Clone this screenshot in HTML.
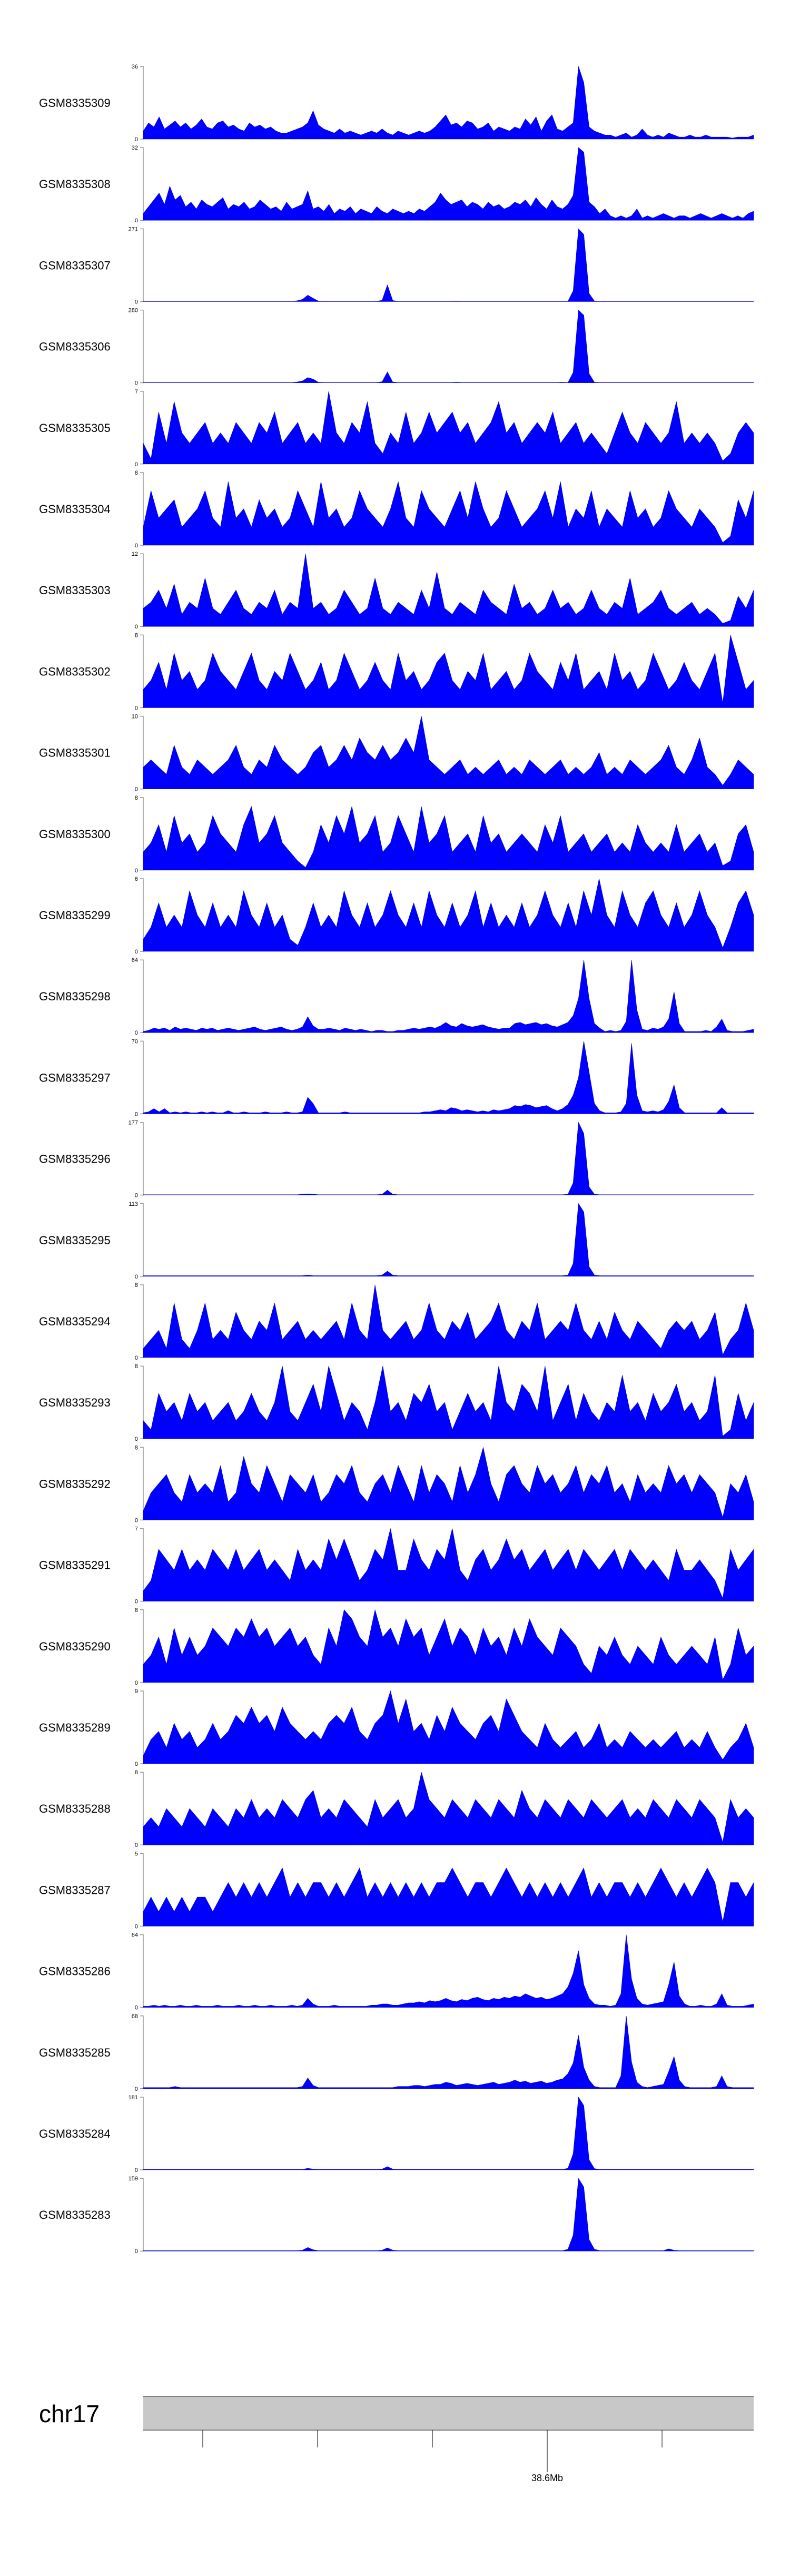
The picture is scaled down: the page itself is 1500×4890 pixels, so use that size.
<!DOCTYPE html>
<html><head><meta charset="utf-8">
<style>
html,body{margin:0;padding:0;background:#fff;}
svg{display:block;}
text{font-family:"Liberation Sans",sans-serif;}
</style></head>
<body>
<svg id="chart" xmlns="http://www.w3.org/2000/svg" width="1500" height="4890" viewBox="0 0 1500 4890">
<rect x="0" y="0" width="1500" height="4890" fill="#fff"/>
<g id="tracks"></g>
<g id="ideogram">
  <text x="74" y="4598" font-size="46" fill="#000">chr17</text>
  <rect x="272" y="4549" width="1159" height="64" fill="#c8c8c8"/>
  <line x1="272" y1="4549" x2="1431" y2="4549" stroke="#808080" stroke-width="2"/>
  <line x1="272" y1="4613" x2="1431" y2="4613" stroke="#808080" stroke-width="2"/>
</g>
<g id="ticks"></g>
</svg>
<script>
const sampleNames = ["GSM8335309","GSM8335308","GSM8335307","GSM8335306","GSM8335305","GSM8335304","GSM8335303","GSM8335302","GSM8335301","GSM8335300","GSM8335299","GSM8335298","GSM8335297","GSM8335296","GSM8335295","GSM8335294","GSM8335293","GSM8335292","GSM8335291","GSM8335290","GSM8335289","GSM8335288","GSM8335287","GSM8335286","GSM8335285","GSM8335284","GSM8335283"];
const yMaxLabels = [36,32,271,280,7,8,12,8,10,8,6,64,70,177,113,8,8,8,7,8,9,8,5,64,68,181,159];

const s5309 = [4,8,6,11,5,7,9,6,8,5,7,10,6,5,8,9,6,7,5,4,8,6,7,5,6,4,3,3,4,5,6,8,14,7,5,4,3,5,3,4,3,2,3,4,3,5,3,2,4,3,2,3,4,3,4,6,9,12,7,8,6,9,8,5,6,8,4,6,5,4,6,5,10,7,11,4,9,12,5,4,6,8,36,28,6,4,3,2,2,1,2,3,1,2,5,2,1,2,1,3,2,1,1,2,1,1,2,1,1,1,1,0.5,1,1,1,2];
const s5308 = [3,6,9,12,7,15,9,11,6,8,5,9,7,6,8,10,5,7,6,8,5,6,9,7,5,6,4,8,5,6,7,13,5,6,4,7,3,5,4,6,3,5,4,3,6,4,3,5,4,3,4,3,5,4,6,8,12,9,7,8,9,6,8,7,5,8,6,7,5,6,8,7,9,6,10,7,5,9,6,5,7,11,32,30,8,6,3,5,2,1,2,1,2,5,1,2,1,2,3,2,1,2,2,1,2,3,2,1,2,3,2,1,2,1,3,4];
const s5307 = [1,1,1,1,1,1,1,1,1,1,1,1,1,1,1,1,1,1,1,1,1,1,1,1,1,1,1,1,1,3,8,24,12,2,1,1,1,1,1,1,1,1,1,1,1,5,62,4,1,1,1,1,1,1,1,1,1,1,1,2,1,1,1,1,1,1,1,1,1,1,1,1,1,1,1,1,1,1,1,1,1,40,271,250,30,2,1,1,1,1,1,1,1,1,1,1,1,1,1,1,1,1,1,1,1,1,1,1,1,1,1,1,1,1,1,1];
const s5306 = [1,1,1,1,1,1,1,1,1,1,1,1,1,1,1,1,1,1,1,1,1,1,1,1,1,1,1,1,1,3,7,20,14,2,1,1,1,1,1,1,1,1,1,1,1,4,42,3,1,1,1,1,1,1,1,1,1,1,1,2,1,1,1,1,1,1,1,1,1,1,1,1,1,1,1,1,1,1,1,2,1,40,280,260,35,2,1,1,1,1,1,1,1,1,1,1,1,1,1,1,1,1,1,1,1,1,1,1,1,1,1,1,1,1,1,1];
const s5305 = [2,0.5,5,2,6,3,2,3,4,2,3,2,4,3,2,4,3,5,2,3,4,2,3,2,7,3,2,4,3,6,2,1,3,2,5,2,3,5,3,4,5,3,4,2,3,4,6,3,4,2,3,4,3,5,2,3,4,2,3,2,1,3,5,3,2,4,3,2,3,6,2,3,2,3,2,0.3,1,3,4,3];
const s5304 = [2,6,3,4,5,2,3,4,6,3,2,7,3,4,2,5,3,4,2,3,6,4,2,7,3,4,2,3,6,4,3,2,4,7,3,2,6,4,3,2,4,6,3,7,4,2,3,6,4,2,3,4,6,3,7,2,4,3,6,2,4,3,2,6,3,4,2,3,6,4,3,2,4,3,2,0.3,1,5,3,6];
const s5303 = [3,4,6,3,7,2,4,3,8,3,2,4,6,3,2,4,3,6,2,4,3,12,3,4,2,3,6,4,2,3,8,3,2,4,3,2,6,3,9,3,2,4,3,2,6,4,3,2,7,3,4,2,3,6,3,4,2,3,6,3,2,4,3,8,2,3,4,6,3,2,3,4,2,3,2,0.5,1,5,3,6];
const s5302 = [2,3,5,2,6,3,4,2,3,6,4,3,2,4,6,3,2,4,3,6,4,2,3,5,2,3,6,4,2,3,5,3,2,6,3,4,2,3,5,6,3,2,4,3,6,2,3,4,2,3,6,4,3,2,5,3,6,2,3,4,2,6,3,4,2,3,6,4,2,3,5,3,2,4,6,0.5,8,5,2,3];
const s5301 = [3,4,3,2,6,3,2,4,3,2,3,4,6,3,2,4,3,6,4,3,2,3,5,6,3,4,6,4,7,5,4,6,4,5,7,5,10,4,3,2,3,4,2,3,2,3,4,2,3,2,4,3,2,3,4,2,3,2,3,5,2,3,2,4,3,2,3,4,6,3,2,4,7,3,2,0.5,2,4,3,2];
const s5300 = [2,3,5,2,6,3,4,2,3,6,4,3,2,5,7,3,4,6,3,2,1,0.3,2,5,3,6,4,7,3,4,6,2,3,6,4,2,7,3,4,6,2,3,4,2,6,3,4,2,3,4,3,2,5,3,6,2,3,4,2,3,4,2,3,2,5,3,2,3,2,5,2,3,4,2,3,0.5,1,4,5,2];
const s5299 = [1,2,4,2,3,2,5,3,2,4,2,3,2,5,3,2,4,2,3,1,0.5,2,4,2,3,2,5,3,2,4,2,3,5,3,2,4,2,5,3,2,4,2,3,5,2,4,2,3,2,4,2,3,5,3,2,4,2,5,3,6,3,2,5,3,2,4,5,3,2,4,2,3,5,3,2,0.3,2,4,5,3];
const s5298 = [1,2,4,3,4,2,5,3,4,3,2,4,3,4,2,3,4,3,2,3,4,5,3,2,3,4,5,3,2,3,5,14,6,3,3,4,3,2,4,3,2,3,2,1,2,2,1,1,2,2,3,4,3,4,5,4,6,9,6,5,8,6,5,6,7,5,4,3,4,4,8,9,7,8,9,7,8,6,5,7,9,15,30,64,30,8,4,1,2,1,2,10,64,20,3,2,4,3,5,12,36,8,1,1,1,1,2,1,5,12,2,1,1,1,2,3];
const s5297 = [1,2,5,2,5,1,2,1,2,1,1,2,1,2,1,1,3,1,1,2,1,1,1,2,1,1,1,2,1,1,2,16,10,1,1,1,1,1,2,1,1,1,1,1,1,1,1,1,1,1,1,1,1,2,2,3,4,3,6,5,3,4,3,2,3,2,4,3,4,5,8,7,9,8,6,7,8,5,3,5,9,18,35,70,40,10,3,1,1,1,2,10,68,18,3,2,3,2,4,12,28,6,1,1,1,1,1,1,1,6,1,1,1,1,1,1];
const s5296 = [1,1,1,1,1,1,1,1,1,1,1,1,1,1,1,1,1,1,1,1,1,1,1,1,1,1,1,1,1,1,2,3,2,1,1,1,1,1,1,1,1,1,1,1,1,2,12,2,1,1,1,1,1,1,1,1,1,1,1,1,1,1,1,1,1,1,1,1,1,1,1,1,1,1,1,1,1,1,1,1,2,30,177,150,20,2,1,1,1,1,1,1,1,1,1,1,1,1,1,1,1,1,1,1,1,1,1,1,1,1,1,1,1,1,1,1];
const s5295 = [1,1,1,1,1,1,1,1,1,1,1,1,1,1,1,1,1,1,1,1,1,1,1,1,1,1,1,1,1,1,1,2,1,1,1,1,1,1,1,1,1,1,1,1,1,2,8,2,1,1,1,1,1,1,1,1,1,1,1,1,1,1,1,1,1,1,1,1,1,1,1,1,1,1,1,1,1,1,1,1,2,20,113,100,15,2,1,1,1,1,1,1,1,1,1,1,1,1,1,1,1,1,1,1,1,1,1,1,1,1,1,1,1,1,1,1];
const s5294 = [1,2,3,1,6,2,1,3,6,2,3,2,5,3,2,4,3,6,2,3,4,2,3,2,3,4,2,6,3,2,8,3,2,3,4,2,3,6,3,2,4,3,5,2,3,4,6,3,2,4,3,6,2,3,4,3,6,3,2,4,2,5,3,2,4,3,2,1,3,4,3,4,2,3,5,0.3,2,3,6,3];
const s5293 = [2,1,5,3,4,2,5,3,4,2,3,4,2,3,5,3,2,4,8,3,2,4,6,3,8,5,2,4,3,1,4,8,3,4,2,5,4,6,3,4,1,3,5,3,4,2,8,4,3,6,5,3,8,2,4,6,2,5,3,2,4,3,7,3,4,2,5,3,4,6,3,4,2,3,7,0.3,1,5,2,4];
const s5292 = [1,3,4,5,3,2,5,3,4,3,6,2,3,7,4,3,6,4,2,5,4,3,5,2,3,5,4,6,3,2,4,5,3,6,4,2,6,3,5,4,2,6,3,5,8,4,2,5,6,4,3,6,4,5,3,4,6,3,5,4,6,3,4,2,5,3,4,3,6,4,5,3,5,4,3,0.3,4,3,5,2];
const s5291 = [1,2,5,4,3,5,3,4,3,5,4,3,5,3,4,5,3,4,3,2,5,3,4,3,6,4,6,4,2,3,5,4,7,3,3,6,4,3,5,4,7,3,2,4,5,3,4,6,4,5,3,4,5,3,4,5,3,5,4,3,4,5,3,5,4,3,4,3,2,5,3,3,4,3,2,0.3,5,3,4,5];
const s5290 = [2,3,5,2,6,3,5,3,4,6,5,4,6,5,7,5,6,4,5,6,4,5,3,2,6,4,8,7,5,4,8,5,6,4,7,5,6,3,5,7,4,6,5,3,6,4,5,3,6,4,7,5,4,3,6,5,4,2,1,4,3,5,3,2,4,3,2,5,3,2,3,4,3,2,5,0.3,2,6,3,4];
const s5289 = [1,3,4,2,5,3,4,2,3,5,3,4,6,5,7,5,6,4,7,5,4,3,4,3,5,6,5,7,4,3,5,6,9,5,8,4,5,3,6,4,7,5,4,3,5,6,4,8,6,4,3,2,5,3,2,3,4,2,3,5,2,3,2,4,3,2,3,2,3,4,2,3,2,4,2,0.5,2,3,5,2];
const s5288 = [2,3,2,4,3,2,4,3,2,4,3,2,4,3,5,3,4,3,5,4,3,5,6,3,4,3,5,4,3,2,5,3,4,5,3,4,8,5,4,3,5,4,3,5,4,3,5,4,3,6,4,3,5,4,3,5,4,3,5,4,3,4,5,3,4,3,5,4,3,5,4,3,5,4,3,0.3,5,3,4,3];
const s5287 = [1,2,1,2,1,2,1,2,2,1,2,3,2,3,2,3,2,3,4,2,3,2,3,3,2,3,2,3,4,2,3,2,3,2,3,2,3,2,3,3,4,3,2,3,3,2,3,4,3,2,3,2,3,2,3,2,3,4,2,3,2,3,3,2,3,2,3,4,3,2,3,2,3,4,3,0.3,3,3,2,3];
const s5286 = [1,1,2,1,2,1,1,2,1,1,2,1,1,1,2,1,1,1,2,1,1,2,1,1,2,1,1,1,2,1,2,8,3,1,1,1,2,1,1,1,1,1,1,2,2,3,3,2,2,3,4,4,5,4,6,5,6,8,6,5,7,6,8,9,7,6,8,7,9,8,10,9,12,10,8,9,7,8,10,12,18,30,50,20,8,3,2,2,1,2,12,64,25,8,3,2,3,4,5,20,40,10,3,1,1,2,1,1,3,12,2,1,1,1,2,3];
const s5285 = [1,1,1,1,1,1,2,1,1,1,1,1,1,1,1,1,1,1,1,1,1,1,1,1,1,1,1,1,1,1,2,10,3,1,1,1,1,1,1,1,1,1,1,1,1,1,1,1,2,2,2,3,3,2,3,4,4,6,5,3,4,5,4,3,4,5,6,4,5,6,8,6,7,5,6,7,5,6,8,9,14,24,50,20,8,2,1,1,1,1,12,68,25,6,2,1,2,3,4,16,30,8,2,1,1,1,1,1,2,12,2,1,1,1,1,1];
const s5284 = [1,1,1,1,1,1,1,1,1,1,1,1,1,1,1,1,1,1,1,1,1,1,1,1,1,1,1,1,1,1,1,4,2,1,1,1,1,1,1,1,1,1,1,1,1,2,8,2,1,1,1,1,1,1,1,1,1,1,1,1,1,1,1,1,1,1,1,1,1,1,1,1,1,1,1,1,1,1,1,1,4,40,181,160,25,3,1,1,1,1,1,1,1,1,1,1,1,1,1,1,1,1,1,1,1,1,1,1,1,1,1,1,1,1,1,1];
const s5283 = [1,1,1,1,1,1,1,1,1,1,1,1,1,1,1,1,1,1,1,1,1,1,1,1,1,1,1,1,1,1,2,8,3,1,1,1,1,1,1,1,1,1,1,1,1,2,7,2,1,1,1,1,1,1,1,1,1,1,1,1,1,1,1,1,1,1,1,1,1,1,1,1,1,1,1,1,1,1,1,1,4,35,159,140,25,4,1,1,1,1,1,1,1,1,1,1,1,1,1,5,2,1,1,1,1,1,1,1,1,1,1,1,1,1,1,1];

const trackSeries = [s5309,s5308,s5307,s5306,s5305,s5304,s5303,s5302,s5301,s5300,s5299,s5298,s5297,s5296,s5295,s5294,s5293,s5292,s5291,s5290,s5289,s5288,s5287,s5286,s5285,s5284,s5283];

const axisTickPositions = [0.0975,0.2856,0.4737,0.6618,0.8499];
const axisTickLabels = ["","","","38.6Mb",""];

const NS = "http://www.w3.org/2000/svg";
const X0 = 272, X1 = 1431, TOP0 = 126, PITCH = 154.2, H = 138;
function xScale(i, n){ return X0 + (X1 - X0) * i / (n - 1); }
function yScale(v, ymax, top){ return top + H - H * Math.min(v, ymax) / ymax; }
function mk(tag, attrs){ const e = document.createElementNS(NS, tag); for (const k in attrs) e.setAttribute(k, attrs[k]); return e; }

const tracksG = document.getElementById('tracks');
sampleNames.forEach((name, k) => {
  const top = TOP0 + k * PITCH;
  const ymax = yMaxLabels[k];
  const data = trackSeries[k];
  const g = mk('g', {});
  
  
  const lab = mk('text', {x: 74, y: top + H/2 + 8, 'font-size': 22, fill: '#000'});
  
  
  lab.textContent = name;
  g.appendChild(lab);
  const ax = mk('path', {d: `M266 ${top} H${X0} V${top+H} H266`, stroke: '#999', 'stroke-width': 1.5, fill: 'none'});
  
  
  g.appendChild(ax);
  const tmax = mk('text', {x: 262, y: top + 4, 'font-size': 11, 'text-anchor': 'end', fill: '#000'});
  
  
  tmax.textContent = ymax;
  g.appendChild(tmax);
  const tmin = mk('text', {x: 262, y: top + H + 4, 'font-size': 11, 'text-anchor': 'end', fill: '#000'});
  
  
  tmin.textContent = '0';
  g.appendChild(tmin);
  let d = `M${X0} ${top+H}`;
  data.forEach((v, i) => { d += ` L${xScale(i, data.length).toFixed(1)} ${yScale(v, ymax, top).toFixed(1)}`; });
  d += ` L${X1} ${top+H} Z`;
  const area = mk('path', {d: d, fill: '#0000ff', stroke: '#0000cc', 'stroke-width': 0.6});
  
  
  g.appendChild(area);
  tracksG.appendChild(g);
});

const ticksG = document.getElementById('ticks');
axisTickPositions.forEach((p, i) => {
  const x = X0 + (X1 - X0) * p;
  const long = axisTickLabels[i] !== "";
  const ln = mk('line', {x1: x, y1: 4613, x2: x, y2: long ? 4693 : 4646, stroke: '#000', 'stroke-width': 1});
  
  
  ticksG.appendChild(ln);
  if (long) {
    const t = mk('text', {x: x, y: 4710, 'font-size': 18, 'text-anchor': 'middle', fill: '#000'});
    
    
    t.textContent = axisTickLabels[i];
    ticksG.appendChild(t);
  }
});
</script>
</body></html>
